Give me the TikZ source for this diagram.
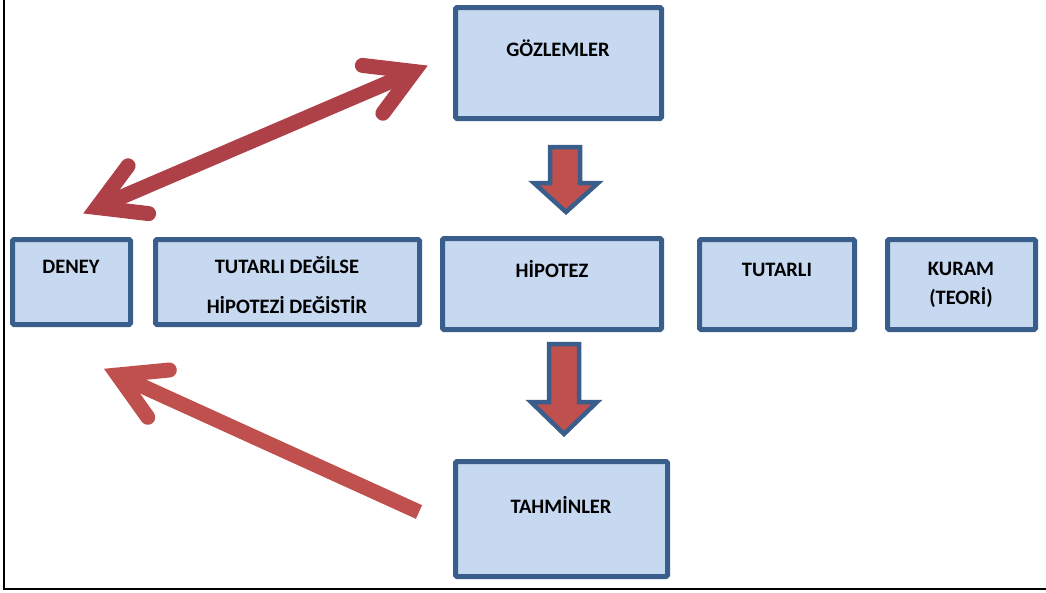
\documentclass[tikz,border=0pt]{standalone}
\usepackage{fontspec}
\setmainfont{Carlito}
\usetikzlibrary{calc}
\definecolor{boxfill}{HTML}{C6D9F1}
\definecolor{boxline}{HTML}{3A5E8C}
\definecolor{redA}{HTML}{AE4048}
\definecolor{redB}{HTML}{C0504D}
\tikzset{
  box/.style={draw=boxline, fill=boxfill, line width=5pt, rounded corners=1.5pt, inner sep=0pt},
  txt/.style={font=\fontsize{20.5}{24}\selectfont\bfseries, text=black, inner sep=0pt},
  blockarrow/.style={draw=boxline, fill=redB, line width=4.5pt, line join=miter},
  thickA/.style={draw=redA, line width=15pt},
  thickB/.style={draw=redB, line width=15pt},
  barb/.style={line cap=round, line join=miter, miter limit=10},
  frameline/.style={draw=black, line width=1.5pt}
}
\begin{document}
\begin{tikzpicture}[x=1pt,y=-1pt]
\useasboundingbox (0,0) rectangle (1046,592);
% frame
\coordinate (fTop) at (4,0);
\coordinate (fCorner) at (4,589);
\coordinate (fRight) at (1046,589);
\draw[frameline] (fTop) -- (fCorner) -- (fRight);
% boxes
\node[box, minimum width=206pt, minimum height=111pt] (goz) at (558.5,63) {};
\node[box, minimum width=219pt, minimum height=91pt] (hip) at (552,284) {};
\node[box, minimum width=212pt, minimum height=115pt] (tah) at (561.5,519) {};
\node[box, minimum width=118pt, minimum height=85pt] (den) at (71.5,282) {};
\node[box, minimum width=264pt, minimum height=85pt] (tdeg) at (287.5,282) {};
\node[box, minimum width=155pt, minimum height=90pt] (tut) at (777,284.5) {};
\node[box, minimum width=148pt, minimum height=90pt] (kur) at (961.5,284.5) {};
% texts
\node[txt] (tgoz) at (558,48) {GÖZLEMLER};
\node[txt] (thip) at (552,269) {HİPOTEZ};
\node[txt] (ttah) at (561,505) {TAHMİNLER};
\node[txt] (tden) at (71,267) {DENEY};
\node[txt] (tdeg1) at (287,265) {TUTARLI DEĞİLSE};
\node[txt] (tdeg2) at (287,305) {HİPOTEZİ DEĞİSTİR};
\node[txt] (ttut) at (777,270) {TUTARLI};
\node[txt] (tkur1) at (961,269) {KURAM};
\node[txt] (tkur2) at (961,297) {(TEORİ)};
% block arrows
\draw[blockarrow] (550,147) -- (580,147) -- (580,183) -- (598,183) -- (566,212) -- (534,183) -- (550,183) -- cycle;
\draw[blockarrow] (549,344) -- (579,344) -- (579,402) -- (597,402) -- (564,434) -- (531,402) -- (549,402) -- cycle;
% double arrow between DENEY and GOZLEMLER
\coordinate (v1) at (97,207.5);
\coordinate (v2) at (414,71.5);
\coordinate (e1) at (128.1,165.8);
\coordinate (e2) at (148.6,213.6);
\coordinate (e3) at (382.9,113.2);
\coordinate (e4) at (362.4,65.4);
\draw[thickA] (v1) -- (v2);
\draw[thickA, barb] (e1) -- (v1) -- (e2);
\draw[thickA, barb] (e3) -- (v2) -- (e4);
% arrow from TAHMINLER to DENEY
\coordinate (tail) at (419,512);
\coordinate (v3) at (117.6,375);
\coordinate (e5) at (169.3,370);
\coordinate (e6) at (147.8,417.3);
\draw[thickB] (tail) -- (v3);
\draw[thickB, barb] (e5) -- (v3) -- (e6);
\end{tikzpicture}
\end{document}
